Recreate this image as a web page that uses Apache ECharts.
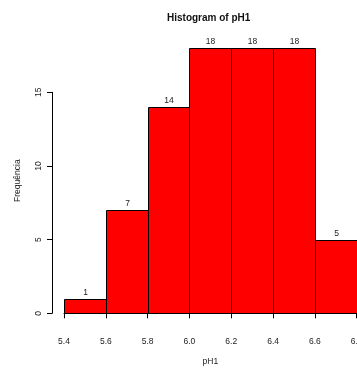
<!DOCTYPE html>
<html><head><meta charset="utf-8">
<script src="https://cdn.jsdelivr.net/npm/echarts@6/dist/echarts.min.js"></script>
<style>html,body{margin:0;padding:0;background:#fff}#c{width:357px;height:368px}</style>
</head><body><div id="c"></div>
<script>
var binStarts = [5.4, 5.6, 5.8, 6.0, 6.2, 6.4, 6.6];
var binEnds   = [5.6, 5.8, 6.0, 6.2, 6.4, 6.6, 6.8];
var counts    = [1, 7, 14, 18, 18, 18, 5];
var yTicks    = [0, 5, 10, 15];
var xTicks    = [5.4, 5.6, 5.8, 6.0, 6.2, 6.4, 6.6, 6.8];

var FONT = 'Liberation Sans, Arial, sans-serif';
var TXT = '#222';
var data = binStarts.map(function (s, i) { return [s, binEnds[i], counts[i]]; });

var chart = echarts.init(document.getElementById('c'), null, {renderer: 'canvas'});
chart.setOption({
  animation: false,
  title: {
    text: 'Histogram of pH1', left: 167, top: 13.5, padding: 0,
    textStyle: {fontFamily: FONT, fontSize: 10, fontWeight: 'bold', color: '#111'}
  },
  grid: [
    {left: 64, right: 0.3, top: 48, bottom: 54.7, outerBoundsMode: 'none', containLabel: false},
    {left: 64, right: 0.3, top: 92.3, bottom: 54.7, outerBoundsMode: 'none', containLabel: false}
  ],
  xAxis: [{
    type: 'value', gridIndex: 0, min: 5.4, max: 6.8, interval: 0.2, offset: 11,
    axisLine: {show: true, lineStyle: {color: '#000', width: 1}},
    axisTick: {show: true, length: 5, lineStyle: {color: '#000'}},
    axisLabel: {fontFamily: FONT, fontSize: 8.5, color: TXT, margin: 13,
      formatter: function (v) { return v.toFixed(1); }, showMaxLabel: true, showMinLabel: true},
    splitLine: {show: false},
    name: 'pH1', nameLocation: 'middle', nameGap: 33,
    nameTextStyle: {fontFamily: FONT, fontSize: 8.5, color: TXT}
  }, {
    type: 'value', gridIndex: 1, min: 5.4, max: 6.8, show: false
  }],
  yAxis: [{
    type: 'value', gridIndex: 0, min: 0, max: 18, offset: 12,
    axisLine: {show: false}, axisTick: {show: false}, axisLabel: {show: false},
    splitLine: {show: false},
    name: 'Frequência', nameLocation: 'middle', nameGap: 30, nameRotate: 90,
    nameTextStyle: {fontFamily: FONT, fontSize: 8.5, color: TXT}
  }, {
    type: 'value', gridIndex: 1, min: 0, max: 15, interval: 5, offset: 12,
    axisLine: {show: true, lineStyle: {color: '#000', width: 1}},
    axisTick: {show: true, length: 5, lineStyle: {color: '#000'}},
    axisLabel: {fontFamily: FONT, fontSize: 8.5, color: TXT, rotate: 90, margin: 9},
    splitLine: {show: false}
  }],
  series: [{
    type: 'custom', xAxisIndex: 0, yAxisIndex: 0,
    data: data,
    encode: {x: [0, 1], y: 2},
    renderItem: function (params, api) {
      var p0 = api.coord([api.value(0), 0]);
      var p1 = api.coord([api.value(1), api.value(2)]);
      var x = Math.round(p0[0]) + 0.5, x2 = Math.round(p1[0]) + 0.5;
      var y = Math.round(p1[1]) + 0.5, y0 = Math.round(p0[1]) + 0.5;
      return {
        type: 'group',
        children: [{
          type: 'rect',
          shape: {x: x, y: y, width: x2 - x, height: y0 - y},
          style: {fill: '#FF0000', stroke: '#000', lineWidth: 1}
        }, {
          type: 'text',
          style: {
            text: String(api.value(2)), x: (x + x2) / 2, y: y - 2,
            align: 'center', verticalAlign: 'bottom',
            font: '8.5px ' + FONT, fill: TXT
          }
        }]
      };
    }
  }]
});
</script></body></html>
